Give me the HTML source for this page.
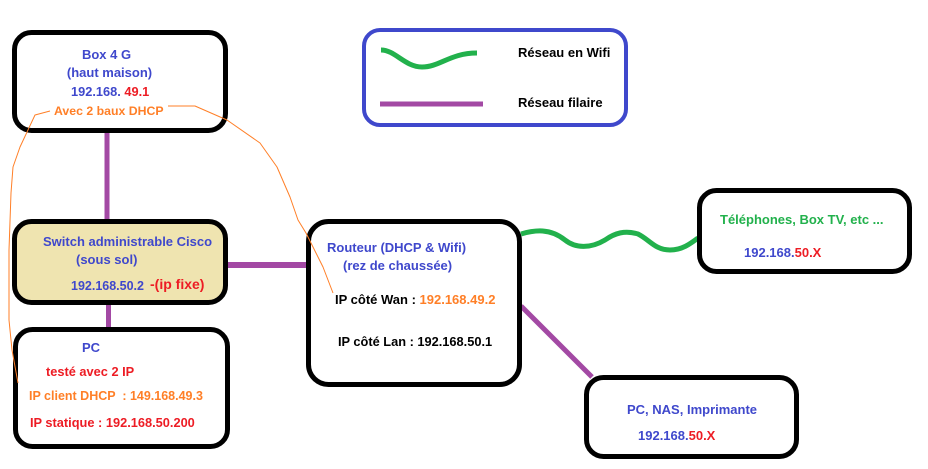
<!DOCTYPE html>
<html><head><meta charset="utf-8"><style>
html,body{margin:0;padding:0;background:#fff;}
svg{display:block;}
text{font-family:"Liberation Sans",sans-serif;font-weight:bold;font-size:13px;}
</style></head><body>
<svg width="928" height="469" viewBox="0 0 928 469" xmlns="http://www.w3.org/2000/svg">
<rect width="928" height="469" fill="#fff"/>
<!-- connectors -->
<line x1="107" y1="130" x2="107" y2="222" stroke="#a349a4" stroke-width="5"/>
<line x1="108.5" y1="302" x2="108.5" y2="330" stroke="#a349a4" stroke-width="5"/>
<line x1="225" y1="265" x2="309" y2="265" stroke="#a349a4" stroke-width="6"/>
<line x1="521" y1="306" x2="592" y2="377" stroke="#a349a4" stroke-width="5"/>
<path d="M521,234 C535,230 550,228 565,240 C575,248 590,249 605,240 C615,233 625,230 638,234 C650,240 655,250 670,250 C682,250 690,244 698,238" fill="none" stroke="#22b14c" stroke-width="5"/>
<!-- boxes -->
<rect x="14.5" y="32.5" width="211" height="98" rx="17" fill="#fff" stroke="#000" stroke-width="5"/>
<rect x="14.5" y="221.5" width="211" height="81" rx="17" fill="#efe4b0" stroke="#000" stroke-width="5"/>
<rect x="15.5" y="329.5" width="212" height="117" rx="17" fill="#fff" stroke="#000" stroke-width="5"/>
<rect x="308.5" y="221.5" width="211" height="163" rx="20" fill="#fff" stroke="#000" stroke-width="5"/>
<rect x="699.5" y="190.5" width="210" height="81" rx="17" fill="#fff" stroke="#000" stroke-width="5"/>
<rect x="586.5" y="377.5" width="210" height="79" rx="17" fill="#fff" stroke="#000" stroke-width="5"/>
<rect x="364" y="30" width="262" height="95" rx="16" fill="#fff" stroke="#3f48cc" stroke-width="4"/>
<!-- legend -->
<path d="M381,50 C395,50 405,67 422,67 C440,67 450,53 477,53" fill="none" stroke="#22b14c" stroke-width="5"/>
<line x1="380" y1="104" x2="483" y2="104" stroke="#a349a4" stroke-width="5"/>
<text x="518" y="57" fill="#000">Réseau en Wifi</text>
<text x="518" y="107" fill="#000">Réseau filaire</text>
<!-- Box 4G -->
<text x="106.5" y="59" text-anchor="middle" fill="#3f48cc">Box 4 G</text>
<text x="109.5" y="77" text-anchor="middle" fill="#3f48cc">(haut maison)</text>
<text x="71" y="96" fill="#3f48cc" style="font-size:12.8px">192.168. <tspan fill="#ed1c24">49.1</tspan></text>
<text x="54" y="115" fill="#ff7f27" style="font-size:12.3px">Avec 2 baux DHCP</text>
<!-- Switch -->
<text x="43" y="246" fill="#3f48cc">Switch administrable Cisco</text>
<text x="76" y="264" fill="#3f48cc">(sous sol)</text>
<text x="71" y="290" fill="#3f48cc" style="font-size:12.5px">192.168.50.2</text>
<text x="150" y="289" fill="#ed1c24" style="font-size:14px">-(ip fixe)</text>
<!-- PC -->
<text x="82" y="352" fill="#3f48cc">PC</text>
<text x="46" y="376" fill="#ed1c24" style="font-size:12.8px">testé avec 2 IP</text>
<text x="29" y="400" fill="#ff7f27" style="font-size:12.5px" xml:space="preserve">IP client DHCP  : 149.168.49.3</text>
<text x="30" y="427" fill="#ed1c24" style="font-size:12.8px">IP statique : 192.168.50.200</text>
<!-- Router -->
<text x="327" y="252" fill="#3f48cc">Routeur (DHCP &amp; Wifi)</text>
<text x="343" y="270" fill="#3f48cc">(rez de chaussée)</text>
<text x="335" y="304" fill="#000">IP côté Wan : <tspan fill="#ff7f27">192.168.49.2</tspan></text>
<text x="338" y="346" fill="#000" style="font-size:12.8px">IP côté Lan : 192.168.50.1</text>
<!-- Telephones -->
<text x="720" y="224" fill="#22b14c">Téléphones, Box TV, etc ...</text>
<text x="744" y="257" fill="#3f48cc">192.168.<tspan fill="#ed1c24">50.X</tspan></text>
<!-- NAS -->
<text x="627" y="414" fill="#3f48cc">PC, NAS, Imprimante</text>
<text x="638" y="440" fill="#3f48cc">192.168.<tspan fill="#ed1c24">50.X</tspan></text>
<!-- orange annotation lines -->
<polyline points="333,293 323,267 306,233 298,220 290,197 277,167 260,143 227,120 195,106 168,106" fill="none" stroke="#ff7f27" stroke-width="1" stroke-linejoin="round"/>
<polyline points="50,111 35,115 20,147 13,167 11,193 9,250 9,320 12,350 18,383" fill="none" stroke="#ff7f27" stroke-width="1" stroke-linejoin="round"/>
</svg>
</body></html>
